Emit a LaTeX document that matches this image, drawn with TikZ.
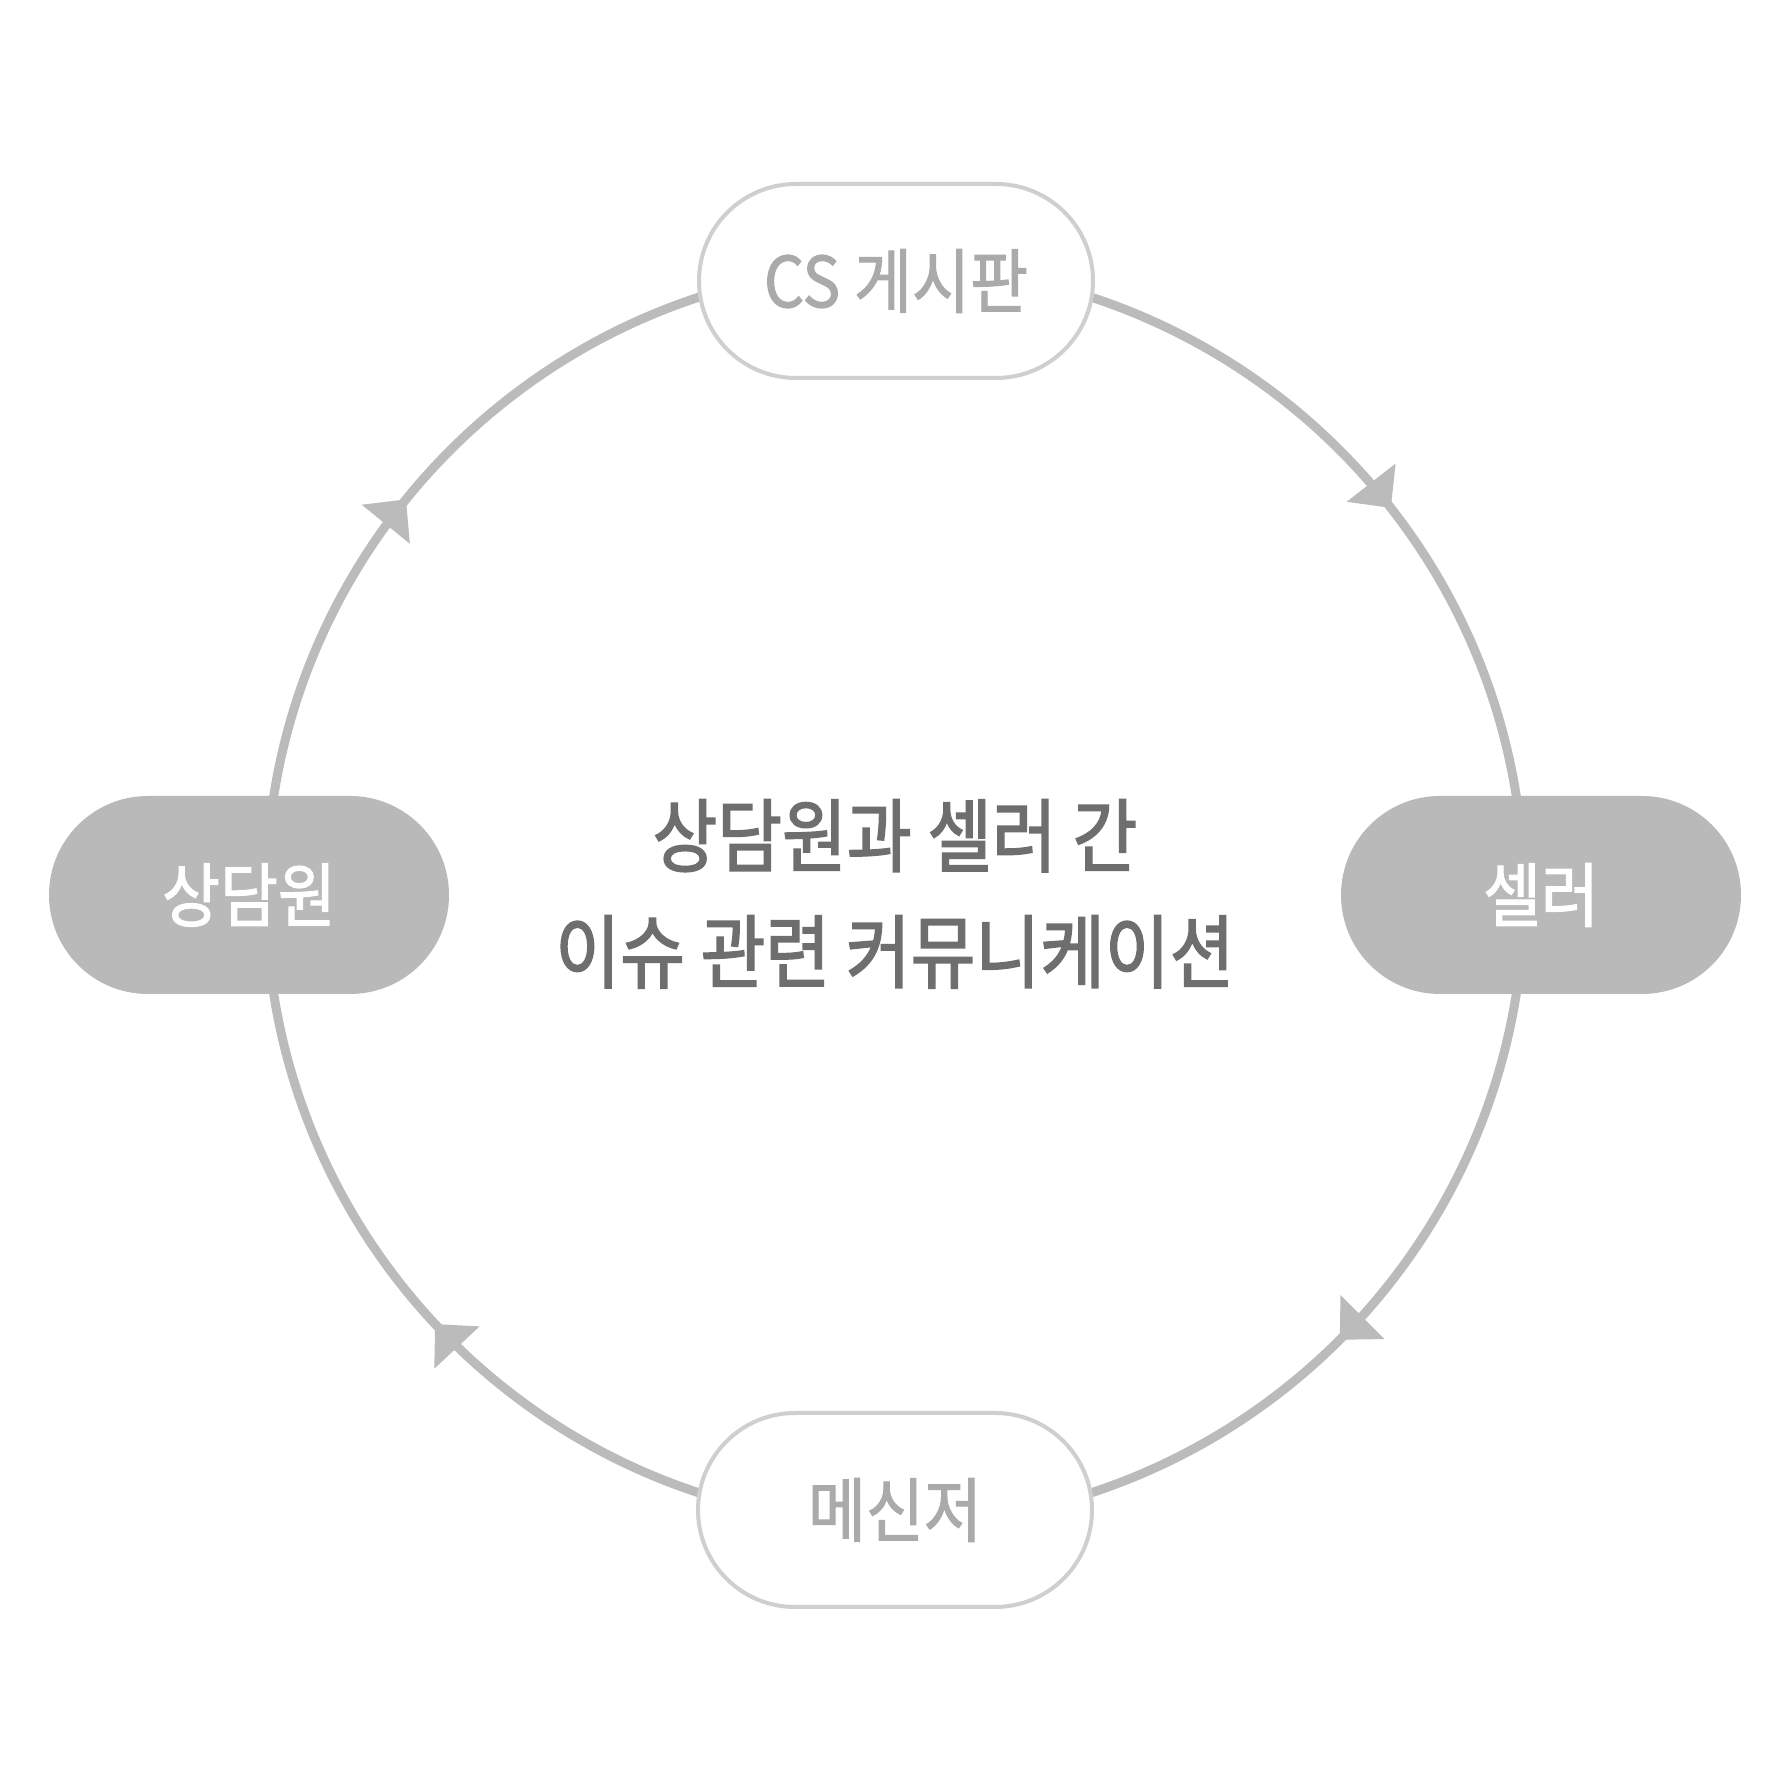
\documentclass[tikz,border=0pt]{standalone}
\usepackage{fontspec}
\newfontfamily\krfont[FakeStretch=0.9,FakeBold=1.6]{Noto Sans CJK KR}
\newfontfamily\krmidfont[FakeStretch=0.88,FakeBold=2]{Noto Sans CJK KR}
\usetikzlibrary{arrows.meta,decorations.markings}
\definecolor{arcgray}{HTML}{BBBBBB}
\definecolor{pillfill}{HTML}{B9B9B9}
\definecolor{pillline}{HTML}{CFCFCF}
\definecolor{lighttext}{HTML}{AAAAAA}
\definecolor{darktext}{HTML}{6E6E6E}
\begin{document}
\begin{tikzpicture}[x=1pt,y=1pt,
  cyc/.style={color=arcgray, line width=9pt, postaction={decorate},
    decoration={markings, mark=at position #1 with {\arrow{Triangle[length=32pt,width=62pt,line width=0pt]}}}},
  pillw/.style={draw=pillline, line width=4pt, fill=white, rectangle, rounded corners=97pt,
    minimum width=394pt, minimum height=194pt, inner sep=0pt,
    font=\krfont\fontsize{70}{84}\selectfont, text=lighttext},
  pillg/.style={fill=pillfill, rectangle, rounded corners=99pt,
    minimum width=400pt, minimum height=198pt, inner sep=0pt,
    font=\krfont\fontsize{70}{84}\selectfont, text=white},
  midtext/.style={align=center, text=darktext, inner sep=0pt,
    font=\krmidfont\fontsize{80}{116}\selectfont}
]
\fill[white] (0,0) rectangle (1790,1790);
\useasboundingbox (0,0) rectangle (1790,1790);
\coordinate (c) at (895,895);
\def\R{629}
\draw[cyc=0.578] ([shift={(90:\R)}]c) arc[start angle=90,end angle=0,radius=\R];
\draw[cyc=0.5] ([shift={(0:\R)}]c) arc[start angle=0,end angle=-90,radius=\R];
\draw[cyc=0.522] ([shift={(-90:\R)}]c) arc[start angle=-90,end angle=-180,radius=\R];
\draw[cyc=0.433] ([shift={(180:\R)}]c) arc[start angle=180,end angle=90,radius=\R];
\node[pillw] (cs) at (896,1509) {CS 게시판};
\node[pillw] (msg) at (895,280) {메신저};
\node[pillg] (agent) at (249,895) {상담원};
\node[pillg] (seller) at (1541,895) {셀러};
\node[midtext] (mid) at (895,896) {상담원과 셀러 간\\이슈 관련 커뮤니케이션};
\end{tikzpicture}
\end{document}
